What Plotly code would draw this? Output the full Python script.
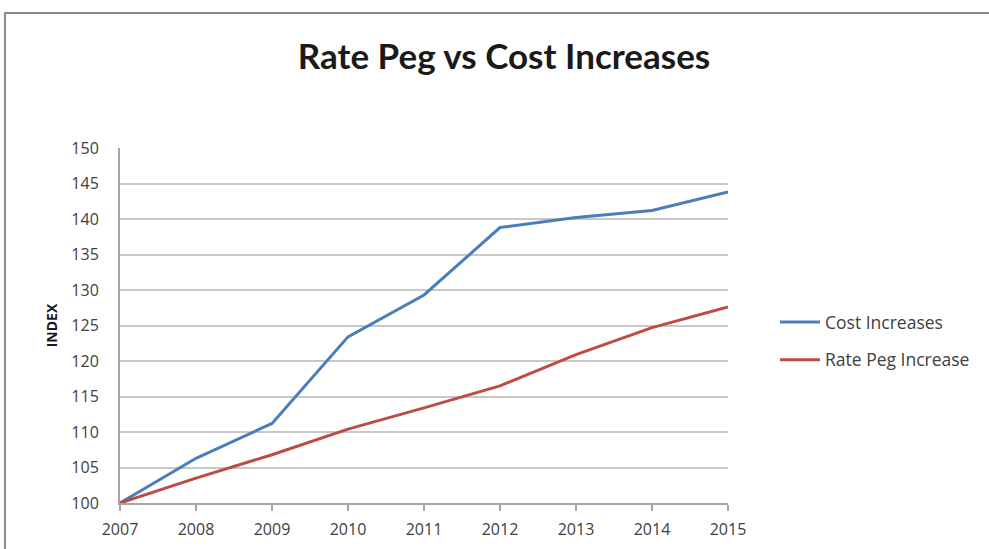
import plotly.graph_objects as go

years = [2007, 2008, 2009, 2010, 2011, 2012, 2013, 2014, 2015]
cost_increases = [100, 106.3, 111.2, 123.4, 129.3, 138.8, 140.2, 141.2, 143.8]
rate_peg_increase = [100, 103.5, 106.8, 110.4, 113.4, 116.5, 120.9, 124.7, 127.6]
y_ticks = list(range(100, 151, 5))

W, H = 989, 549
L, R, T, B = 120, 728, 148, 503

fig = go.Figure()
fig.add_trace(go.Scatter(x=years, y=cost_increases, mode="lines", name="Cost Increases",
                         line=dict(color="#4A7EBB", width=3), legendgroup="a"))
fig.add_trace(go.Scatter(x=years, y=rate_peg_increase, mode="lines", name="Rate Peg Increase",
                         line=dict(color="#BE4B48", width=3), legendgroup="b"))

font_main = "Open Sans, Lato, sans-serif"
fig.update_layout(
    width=W, height=H,
    margin=dict(l=L, r=W - R, t=T, b=H - B, pad=0, autoexpand=False),
    paper_bgcolor="white", plot_bgcolor="white",
    title=dict(text="<b>Rate Peg vs Cost Increases</b>", x=504 / W, xanchor="center",
               y=1 - 57 / H, yanchor="middle",
               font=dict(family="Lato, Open Sans, sans-serif", size=35, color="#1a1a1a")),
    showlegend=True,
    legend=dict(x=(775 - L) / (R - L), xanchor="left", y=(B - 341) / (B - T), yanchor="middle",
                font=dict(family=font_main, size=17.5, color="#404040"),
                tracegroupgap=12, itemwidth=40, bgcolor="rgba(0,0,0,0)"),
    xaxis=dict(range=[2007, 2015], tickvals=years, ticktext=[str(y) for y in years],
               showgrid=False, showline=True, linecolor="#a6a6a6", linewidth=2,
               ticks="outside", ticklen=6, tickcolor="#a6a6a6", tickwidth=2,
               ticklabelstandoff=5, automargin=False,
               tickfont=dict(family=font_main, size=16, color="#404040"),
               zeroline=False, fixedrange=True),
    yaxis=dict(range=[100, 150], tickvals=y_ticks, showgrid=True, gridcolor="#c8c8c8", gridwidth=2,
               showline=True, linecolor="#a6a6a6", linewidth=2, ticks="", ticklabelstandoff=16,
               automargin=False,
               tickfont=dict(family=font_main, size=16, color="#404040"),
               title=dict(text="<b>INDEX</b>", standoff=10,
                          font=dict(family=font_main, size=14, color="#1a1a1a")),
               zeroline=False, fixedrange=True),
)

# outer chart-area border
fig.add_shape(type="rect", xref="paper", yref="paper",
              x0=(5 - L) / (R - L), x1=(W + 20 - L) / (R - L),
              y0=(B - (H + 20)) / (B - T), y1=(B - 13) / (B - T),
              line=dict(color="#8c8c8c", width=2), fillcolor="rgba(0,0,0,0)", layer="below")

fig.write_html("out.html")
